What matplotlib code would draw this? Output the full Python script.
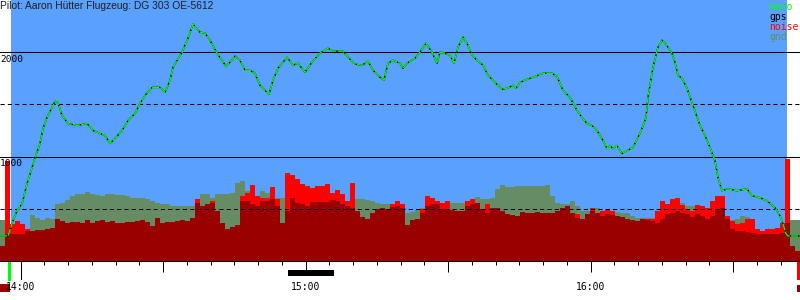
import numpy as np
import matplotlib
matplotlib.use('Agg')
import matplotlib.pyplot as plt
import matplotlib.transforms as mtransforms
from matplotlib.patches import Rectangle

# Flugdaten: Zeit in Minuten nach 14:00, Höhen in m
title = "Pilot: Aaron Hütter Flugzeug: DG 303 OE-5612"

baro_t = [-4.36, -2.67, -1.62, -0.78, 0.27, 1.33, 2.38, 3.01, 4.06, 4.69,
          5.54, 6.59, 7.22, 7.85, 8.69, 9.96, 11.85, 13.96, 15.22, 16.69,
          17.75, 18.80, 19.85, 21.33, 22.59, 24.07, 25.12, 26.17, 27.64, 29.33,
          30.38, 31.43, 32.06, 33.96, 35.22, 36.27, 37.74, 38.79, 39.85, 41.32,
          42.37, 43.21, 44.06, 45.11, 46.16, 47.22, 48.27, 49.32, 50.37, 51.42,
          52.27, 53.11, 54.16, 55.22, 56.06, 57.32, 58.37, 59.85, 61.32, 63.00,
          64.69, 65.74, 67.85, 68.90, 70.37, 71.85, 73.11, 74.16, 75.64, 76.48,
          77.32, 78.37, 79.85, 80.48, 81.32, 83.00, 84.05, 85.32, 86.58, 87.64,
          88.27, 89.32, 90.37, 91.22, 92.06, 93.11, 93.96, 95.01, 96.06, 97.32,
          98.37, 99.85, 101.32, 102.37, 103.64, 104.27, 105.11, 106.58, 107.85, 109.96,
          111.85, 112.90, 114.16, 115.64, 117.11, 118.16, 119.22, 120.27, 121.32, 122.37,
          123.43, 124.06, 124.69, 125.53, 126.58, 127.64, 128.90, 129.95, 130.80, 131.64,
          132.06, 133.11, 134.16, 135.01, 135.64, 136.27, 137.11, 137.74, 138.37, 139.22,
          140.27, 141.53, 143.01, 144.06, 145.11, 146.16, 146.80, 147.64, 148.90, 150.80,
          152.90, 153.95, 155.64, 157.11, 158.80, 159.85, 160.48, 161.11, 161.54, 164.06]

baro_alt = [240, 240, 385, 481, 548, 740, 894, 990, 1125, 1269,
            1375, 1471, 1529, 1519, 1394, 1317, 1298, 1317, 1250, 1221,
            1202, 1125, 1173, 1250, 1346, 1413, 1510, 1587, 1663, 1663,
            1615, 1731, 1856, 2000, 2135, 2269, 2192, 2183, 2115, 1990,
            1923, 1865, 1904, 1962, 1923, 1827, 1827, 1798, 1683, 1635,
            1596, 1731, 1846, 1904, 1952, 1875, 1894, 1808, 1904, 1990,
            2038, 2010, 2010, 1952, 1885, 1875, 1913, 1827, 1760, 1731,
            1894, 1923, 1894, 1846, 1894, 1942, 2000, 2087, 2000, 1894,
            2000, 1990, 1971, 1894, 2048, 2144, 2087, 1971, 1923, 1875,
            1779, 1711, 1644, 1654, 1683, 1654, 1711, 1740, 1760, 1798,
            1798, 1769, 1635, 1567, 1442, 1375, 1317, 1298, 1250, 1173,
            1077, 1106, 1077, 1106, 1029, 1058, 1087, 1183, 1269, 1375,
            1567, 1856, 2048, 2115, 2087, 2048, 1990, 1904, 1779, 1750,
            1654, 1490, 1298, 1202, 1087, 962, 798, 673, 692, 673,
            692, 625, 606, 577, 510, 433, 356, 260, 240, 240]

# gps liegt praktisch auf baro
gps_alt = baro_alt

# Balken (je ~1,05 min), Start bei -4.36 min
bin_start = -4.36
bin_width = 1.0526

gnd = [394, 394, 190, 190, 190, 190, 442, 413, 394, 413,
       404, 548, 558, 587, 625, 644, 644, 663, 644, 635,
       625, 644, 644, 635, 635, 625, 606, 606, 606, 596,
       577, 558, 548, 548, 529, 529, 529, 529, 529, 529,
       644, 644, 606, 644, 644, 644, 654, 750, 769, 673,
       625, 596, 673, 654, 606, 606, 606, 606, 540, 540,
       540, 540, 540, 540, 540, 540, 540, 540, 540, 540,
       540, 596, 596, 587, 577, 558, 548, 548, 538, 538,
       538, 462, 471, 490, 510, 529, 529, 529, 529, 529,
       558, 558, 558, 558, 577, 615, 596, 596, 606, 692,
       731, 711, 711, 721, 721, 721, 721, 721, 721, 731,
       625, 558, 548, 548, 577, 529, 481, 481, 500, 510,
       481, 481, 481, 471, 462, 462, 433, 413, 413, 413,
       413, 413, 400, 400, 400, 400, 558, 529, 529, 400,
       400, 400, 400, 400, 400, 394, 394, 404, 433, 423,
       250, 250, 250, 250, 250, 250, 250, 394, 394, 394]

noise = [144, 962, 356, 385, 356, 308, 288, 298, 298, 308,
         317, 404, 385, 365, 375, 375, 365, 394, 365, 385,
         394, 375, 385, 365, 365, 375, 375, 385, 394, 375,
         337, 413, 365, 375, 375, 385, 394, 385, 413, 596,
         529, 548, 577, 481, 365, 308, 327, 346, 625, 654,
         731, 625, 606, 606, 711, 596, 365, 846, 827, 788,
         740, 721, 702, 721, 721, 740, 654, 683, 644, 577,
         750, 481, 423, 404, 462, 500, 510, 500, 548, 577,
         548, 346, 394, 404, 500, 625, 606, 577, 558, 577,
         490, 481, 481, 577, 596, 558, 500, 548, 510, 510,
         481, 452, 442, 433, 471, 462, 462, 471, 462, 462,
         462, 481, 510, 529, 462, 452, 404, 452, 510, 462,
         481, 490, 481, 433, 423, 404, 394, 385, 404, 404,
         404, 481, 577, 548, 596, 606, 540, 500, 481, 538,
         529, 510, 577, 625, 625, 433, 385, 356, 365, 404,
         404, 308, 288, 308, 308, 317, 365, 981, 144, 96]

noise_base = [144, 260, 260, 260, 260, 288, 288, 298, 298, 308,
              317, 404, 385, 365, 375, 375, 365, 394, 365, 385,
              394, 375, 385, 365, 365, 375, 375, 385, 394, 375,
              337, 413, 365, 375, 375, 385, 394, 385, 413, 558,
              529, 548, 558, 481, 365, 308, 327, 346, 577, 577,
              548, 529, 577, 577, 596, 529, 365, 481, 606, 558,
              548, 529, 567, 567, 567, 567, 587, 577, 548, 529,
              510, 481, 423, 404, 462, 500, 510, 500, 519, 529,
              510, 346, 394, 404, 462, 529, 548, 548, 500, 500,
              490, 481, 481, 529, 548, 558, 500, 462, 510, 510,
              481, 452, 442, 433, 471, 462, 462, 471, 462, 462,
              462, 481, 510, 529, 462, 413, 404, 452, 481, 462,
              433, 452, 442, 433, 423, 404, 394, 385, 404, 394,
              385, 365, 404, 452, 462, 481, 462, 452, 423, 452,
              433, 404, 433, 500, 510, 404, 308, 288, 288, 279,
              269, 260, 260, 260, 260, 260, 269, 365, 144, 96]

grid_solid = [1000, 2000]
grid_dashed = [500, 1500]
hour_ticks = [0, 60, 120]
hour_labels = ['14:00', '15:00', '16:00']

legend_names = ['baro', 'gps', 'noise', 'gnd']

# Farben
BLUE = '#59a0ff'
GND = '#668c66'
RED = '#ff0000'
MAROON = '#990000'
GREEN = '#00ff00'
legend_colors = [GREEN, 'black', RED, GND]

# Skala: 14:00 liegt bei Pixel 20.7, 4.75 px pro Minute
t_left, t_right = -4.36, 164.06
flight_start, flight_end = -2.04, 161.33

fig = plt.figure(figsize=(8, 3), dpi=100)
ax = fig.add_axes([0, 39 / 300, 1, 261 / 300])
ax.set_facecolor('white')
ax.set_xlim(t_left, t_right)
ax.set_ylim(0, 2500)

ax.add_patch(Rectangle((flight_start, 0), flight_end - flight_start, 2500,
                       facecolor=BLUE, edgecolor='none', zorder=0))

edges = bin_start + bin_width * np.arange(len(gnd) + 1)
ax.stairs(gnd, edges, fill=True, color=GND, zorder=1)
ax.stairs(noise, edges, fill=True, color=RED, zorder=2)
ax.stairs(noise_base, edges, fill=True, color=MAROON, zorder=3)

for v in grid_solid:
    ax.axhline(v, color='black', lw=0.75, zorder=4)
for v in grid_dashed:
    ax.axhline(v, color='black', lw=0.75, dashes=(4, 3), zorder=4)

ax.plot(baro_t, gps_alt, color='black', lw=1.0, zorder=5)
ax.plot(baro_t, baro_alt, color=GREEN, lw=1.0, dashes=(5, 1), zorder=6)

# Höhenbeschriftung
for v in grid_solid:
    ax.annotate(str(v), xy=(0, v), xycoords=('axes fraction', 'data'),
                xytext=(0, -2), textcoords='offset points', va='top', ha='left',
                fontsize=6.8, family='DejaVu Sans Mono', zorder=7)

# Zeitachse
ax.set_xticks(np.arange(0, 165, 30))
ax.set_xticklabels([hour_labels[hour_ticks.index(t)] if t in hour_ticks else ''
                    for t in range(0, 165, 30)])
ax.set_xticks(np.arange(5, 165, 5), minor=True)
ax.tick_params(axis='x', which='major', length=7.9, width=0.72, pad=7.0,
               labelsize=7)
ax.tick_params(axis='x', which='minor', length=2.9, width=0.72)
for lbl in ax.get_xticklabels():
    lbl.set_family('DejaVu Sans Mono')
ax.set_yticks([])
for side in ['left', 'top', 'right']:
    ax.spines[side].set_visible(False)
ax.spines['bottom'].set_linewidth(0.75)
ax.spines['bottom'].set_zorder(8)

# Markierungen unter der Achse
trans = mtransforms.blended_transform_factory(ax.transData, ax.transAxes)
h = 1 / 261
ax.plot([0, 0], [0, -18 * h], color='black', lw=0.75, transform=trans, clip_on=False)
ax.add_patch(Rectangle((-2.67, -20 * h), 0.63, 19 * h, facecolor=GREEN,
                       edgecolor='none', transform=trans, clip_on=False))
ax.add_patch(Rectangle((56.27, -15 * h), 9.69, 6 * h, facecolor='black',
                       edgecolor='none', transform=trans, clip_on=False))
ax.add_patch(Rectangle((163.43, -19 * h), 0.63, 18 * h, facecolor=RED,
                       edgecolor='none', transform=trans, clip_on=False))
ax.add_patch(Rectangle((163.43, -31 * h), 0.63, 7 * h, facecolor=MAROON,
                       edgecolor='none', transform=trans, clip_on=False))
ax.add_patch(Rectangle((-4.36, -31 * h), 2.1, 8 * h, facecolor=MAROON,
                       edgecolor='none', transform=trans, clip_on=False, zorder=0))

fig.text(0.0, 1 - 1 / 300, title, fontsize=7.4, family='Liberation Sans',
         va='top', ha='left', color='#202020')

for i, (name, c) in enumerate(zip(legend_names, legend_colors)):
    fig.text(769 / 800, 1 - (2 + 10 * i) / 300, name, fontsize=7,
             family='DejaVu Sans Mono', va='top', ha='left', color=c)

fig.savefig('out.png', dpi=100)
